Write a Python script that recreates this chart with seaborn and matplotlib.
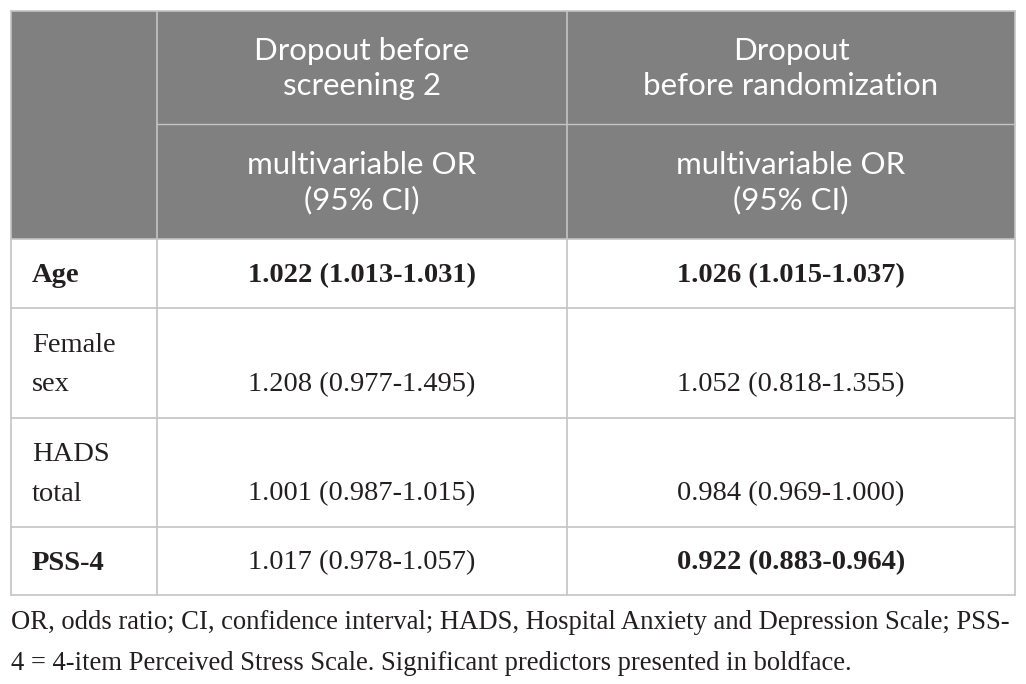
import matplotlib
matplotlib.use("Agg")
import matplotlib.pyplot as plt
from matplotlib.patches import Rectangle
import seaborn as sns

# === data ===
col_headers = ["Dropout before\nscreening 2", "Dropout\nbefore randomization"]
sub_header = "multivariable OR\n(95% CI)"
predictors = ["Age", "Female\nsex", "HADS\ntotal", "PSS-4"]
or_screening = ["1.022 (1.013-1.031)", "1.208 (0.977-1.495)",
                "1.001 (0.987-1.015)", "1.017 (0.978-1.057)"]
or_random = ["1.026 (1.015-1.037)", "1.052 (0.818-1.355)",
             "0.984 (0.969-1.000)", "0.922 (0.883-0.964)"]
bold_label = [True, False, False, True]
bold_screening = [True, False, False, False]
bold_random = [True, False, False, True]
caption = ("OR, odds ratio; CI, confidence interval; HADS, Hospital Anxiety and Depression Scale; PSS-\n"
           "4 = 4-item Perceived Stress Scale. Significant predictors presented in boldface.")

# === style ===
sns.set_theme(style="white")
plt.rcParams['font.family'] = ['Liberation Serif', 'DejaVu Serif']

# === layout (pixels) ===
W, H = 1026, 684
x_edges = [11, 157, 567, 1015]
y_head = [11, 124, 239]
y_rows = [239, 308, 418, 527, 595]
head_bg = '#808080'
grid_c = '#c4c4c4'
txt_c = '#231f20'

fig = plt.figure(figsize=(W / 100, H / 100), dpi=100)
ax = fig.add_axes([0, 0, 1, 1])
ax.set_xlim(0, W)
ax.set_ylim(H, 0)
ax.axis('off')

# header background
ax.add_patch(Rectangle((x_edges[0], y_head[0]), x_edges[-1] - x_edges[0],
                       y_head[-1] - y_head[0], facecolor=head_bg, edgecolor='none'))

# grid lines
ax.plot([x_edges[0], x_edges[-1]], [y_head[0], y_head[0]], color=grid_c, lw=1.2)
ax.plot([x_edges[1], x_edges[-1]], [y_head[1], y_head[1]], color=grid_c, lw=1.0)
for y in y_rows:
    ax.plot([x_edges[0], x_edges[-1]], [y, y], color=grid_c, lw=1.2)
for x in x_edges:
    ax.plot([x, x], [y_head[0], y_rows[-1]], color=grid_c, lw=1.2)

# header text
col_cx = [(x_edges[1] + x_edges[2]) / 2, (x_edges[2] + x_edges[3]) / 2]
for cx, txt in zip(col_cx, col_headers):
    ax.text(cx, (y_head[0] + y_head[1]) / 2 + 1, txt, ha='center', va='center',
            color='white', fontsize=22.5, family=['Lato', 'DejaVu Sans'], linespacing=1.3)
    ax.text(cx, (y_head[1] + y_head[2]) / 2 + 1, sub_header, ha='center', va='center',
            color='white', fontsize=22.5, family=['Lato', 'DejaVu Sans'], linespacing=1.3)

# body rows
for i, lab in enumerate(predictors):
    top, bot = y_rows[i], y_rows[i + 1]
    two_line = '\n' in lab
    ax.text(32, (top + bot) / 2 + 2, lab, ha='left', va='center', fontsize=20.5,
            fontweight='bold' if bold_label[i] else 'normal', color=txt_c,
            linespacing=1.75)
    vy = bot - 33 if two_line else (top + bot) / 2 + 2
    ax.text(col_cx[0], vy, or_screening[i], ha='center', va='center', fontsize=20.5,
            fontweight='bold' if bold_screening[i] else 'normal', color=txt_c)
    ax.text(col_cx[1], vy, or_random[i], ha='center', va='center', fontsize=20.5,
            fontweight='bold' if bold_random[i] else 'normal', color=txt_c)

# caption
ax.text(11, 643, caption, ha='left', va='center', fontsize=19.2, color=txt_c,
        linespacing=1.8)

fig.savefig('out.png', dpi=100)
